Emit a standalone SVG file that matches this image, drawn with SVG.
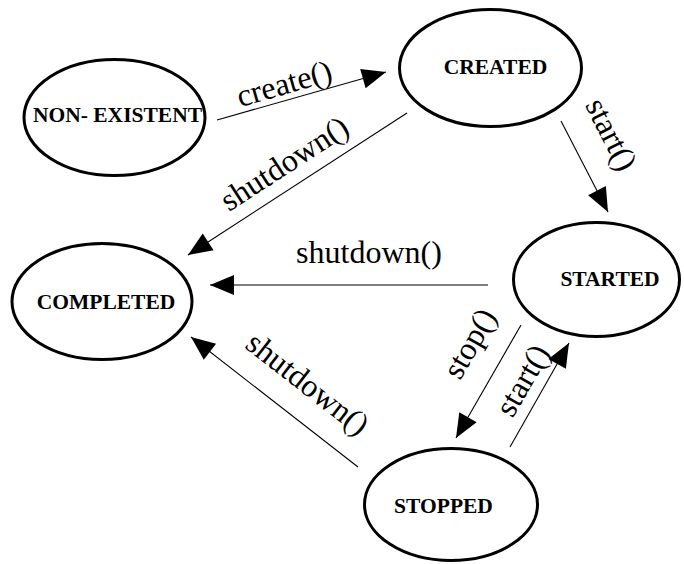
<svg xmlns="http://www.w3.org/2000/svg" width="684" height="564" viewBox="0 0 684 564">
<defs>
<style>
.node{fill:#fff;stroke:#000;stroke-width:3}
.nlabel{font-family:"Liberation Serif","Times New Roman",serif;font-weight:bold;font-size:21.5px;fill:#000;text-anchor:middle}
.edge{stroke:#000;stroke-width:1.1;fill:none;marker-end:url(#arrow)}
.elabel{font-family:"Liberation Serif","Times New Roman",serif;font-size:32px;fill:#000;text-anchor:middle}
</style>
<marker id="arrow" markerUnits="userSpaceOnUse" markerWidth="24" markerHeight="20" refX="24" refY="10" orient="auto" overflow="visible">
<path d="M0,0 L24,10 L0,20 Z" fill="#000"/>
</marker>
</defs>
<rect width="684" height="564" fill="#fff"/>
<g id="connectors">
<line class="edge" x1="217" y1="120" x2="386" y2="72"/>
<line class="edge" x1="407" y1="113" x2="188" y2="255"/>
<line class="edge" x1="561" y1="121" x2="608" y2="212"/>
<line class="edge" x1="488" y1="285" x2="210" y2="285" stroke="#333"/>
<line class="edge" x1="521" y1="325" x2="456" y2="438"/>
<line class="edge" x1="510" y1="447" x2="569" y2="343"/>
<line class="edge" x1="358" y1="467" x2="191" y2="337"/>
<text class="elabel" transform="translate(284,83) rotate(-16)" dy="0.35em">create()</text>
<text class="elabel" transform="translate(284,163) rotate(-33)" dy="0.35em">shutdown()</text>
<text class="elabel" transform="translate(612,134) rotate(63)" dy="0.35em">start()</text>
<text class="elabel" x="369" y="263">shutdown()</text>
<text class="elabel" transform="translate(469,343) rotate(-60)" dy="0.35em">stop()</text>
<text class="elabel" transform="translate(522,380) rotate(-60)" dy="0.35em">start()</text>
<text class="elabel" transform="translate(308,383) rotate(38)" dy="0.35em">shutdown()</text>
</g>
<g id="non-existent">
<ellipse class="node" cx="114.5" cy="117.5" rx="90.5" ry="58"/>
<text class="nlabel" x="117.5" y="122">NON- EXISTENT</text>
</g>
<g id="created">
<ellipse class="node" cx="490.5" cy="68" rx="91" ry="58.5"/>
<text class="nlabel" x="495.5" y="74">CREATED</text>
</g>
<g id="completed">
<ellipse class="node" cx="102" cy="301.5" rx="90" ry="58"/>
<text class="nlabel" x="106" y="309">COMPLETED</text>
</g>
<g id="started">
<ellipse class="node" cx="596.5" cy="279.5" rx="83" ry="57"/>
<text class="nlabel" x="610" y="286">STARTED</text>
</g>
<g id="stopped">
<ellipse class="node" cx="451" cy="504.5" rx="86.5" ry="56"/>
<text class="nlabel" x="443.5" y="513">STOPPED</text>
</g>
</svg>
